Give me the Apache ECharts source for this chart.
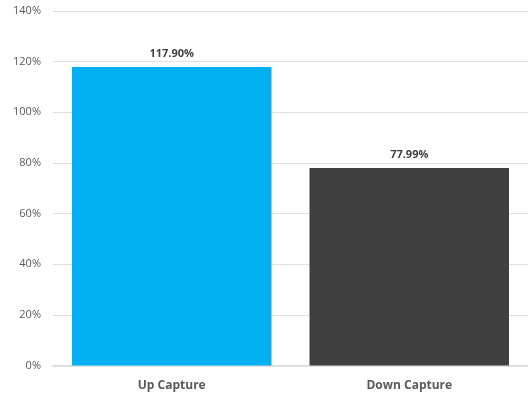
<!DOCTYPE html>
<html>
<head>
<meta charset="utf-8">
<script src="https://cdn.jsdelivr.net/npm/echarts@6/dist/echarts.min.js"></script>
<style>html,body{margin:0;padding:0;background:#fff;}#c{width:528px;height:395px;}</style>
</head>
<body>
<div id="c"></div>
<script>
const categories = ['Up Capture', 'Down Capture'];
const values = [117.90, 77.99];
const barColors = ['#00B0F0', '#404040'];
const yTicks = [0, 20, 40, 60, 80, 100, 120, 140];

const chart = echarts.init(document.getElementById('c'));
chart.setOption({
  animation: false,
  grid: { left: 53, right: 0, top: 11, bottom: 29.5 },
  xAxis: {
    type: 'category',
    data: categories,
    axisLine: { lineStyle: { color: '#d9d9d9', width: 1.5 } },
    axisTick: { show: false },
    axisLabel: { color: '#595959', fontWeight: 'bold', fontSize: 12, fontFamily: 'Open Sans', margin: 14 }
  },
  yAxis: {
    type: 'value',
    min: yTicks[0],
    max: yTicks[yTicks.length - 1],
    interval: 20,
    axisLine: { show: false },
    axisTick: { show: false },
    splitLine: { lineStyle: { color: '#e0e0e0', width: 1 } },
    axisLabel: { color: '#595959', fontSize: 11, fontFamily: 'Open Sans', margin: 12, formatter: v => v + '%' }
  },
  series: [{
    type: 'bar',
    barCategoryGap: '16%',
    data: values.map((v, i) => ({ value: v, itemStyle: { color: barColors[i] } })),
    label: {
      show: true,
      position: 'top',
      distance: 8,
      color: '#404040',
      fontWeight: 'bold',
      fontSize: 11,
      fontFamily: 'Open Sans',
      formatter: p => p.value.toFixed(2) + '%'
    }
  }]
});
</script>
</body>
</html>
